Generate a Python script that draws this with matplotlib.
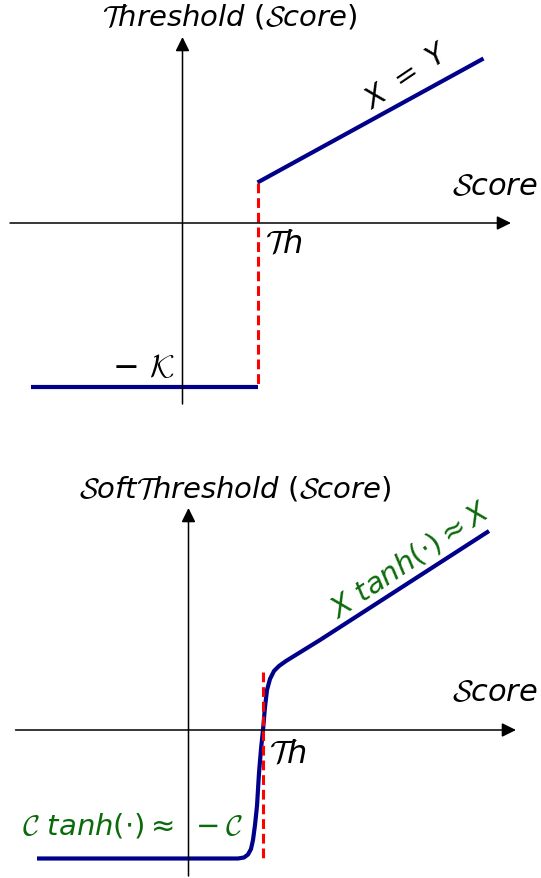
import matplotlib
matplotlib.use('Agg')
import matplotlib.pyplot as plt

# mathtext: italic sans for letters, calligraphic from cmsy10
plt.rcParams['mathtext.fontset'] = 'custom'
plt.rcParams['mathtext.it'] = 'DejaVu Sans:italic'
plt.rcParams['mathtext.rm'] = 'DejaVu Sans'
plt.rcParams['mathtext.cal'] = 'cmsy10'

# ---- data: hard threshold (top panel) ----
th_hard = 1.5
hard_low_x = [-3.03, 1.5]
hard_low_y = [-3.27, -3.27]
hard_high_x = [1.5, 6.02]
hard_high_y = [0.81, 3.29]

# ---- data: soft threshold (bottom panel) ----
th_soft = 1.49
soft_x = [-3.03, 0.99, 1.11, 1.19, 1.25, 1.29, 1.33, 1.37, 1.41, 1.45,
          1.49, 1.53, 1.57, 1.63, 1.71, 1.81, 1.95, 2.63, 6.01]
soft_y = [-2.57, -2.57, -2.55, -2.49, -2.38, -2.20, -1.90, -1.52, -0.86, -0.38,
          0.0, 0.46, 0.80, 1.02, 1.18, 1.28, 1.38, 1.80, 3.98]
soft_dash_y = [1.16, -2.55]

NAVY = '#00008b'
GREEN = '#0b6b0b'
FS_TITLE = 21
FS_LABEL = 23
FS_NOTE = 21


def draw_axes(ax, xr, yr):
    """ black coordinate axes with filled arrow heads """
    style = '-|>,head_length=0.85,head_width=0.42'
    ax.annotate('', xy=(xr[1], 0), xytext=(xr[0], 0),
                arrowprops=dict(arrowstyle=style, color='black', lw=1.1,
                                shrinkA=0, shrinkB=0), zorder=4)
    ax.annotate('', xy=(0, yr[1]), xytext=(0, yr[0]),
                arrowprops=dict(arrowstyle=style, color='black', lw=1.1,
                                shrinkA=0, shrinkB=0), zorder=4)


fig = plt.figure(figsize=(5.41, 8.79), dpi=100)

# top panel: hard threshold
ax1 = fig.add_axes([0, 439 / 879, 1, 440 / 879])
ax1.set_xlim(-3.65, 7.17); ax1.set_ylim(-4.32, 4.48)
ax1.set_axis_off()
draw_axes(ax1, (-3.45, 6.57), (-3.62, 3.72))
ax1.plot(hard_low_x, hard_low_y, color=NAVY, lw=3, solid_capstyle='butt', zorder=2)
ax1.plot(hard_high_x, hard_high_y, color=NAVY, lw=3, solid_capstyle='butt', zorder=2)
ax1.plot([th_hard, th_hard], [hard_high_y[0], hard_low_y[1]], color='red', lw=2.2,
         dashes=(3.2, 1.6), zorder=3)
ax1.text(0.95, 4.14, r'$\mathcal{T}hreshold\ (\mathcal{S}core)$', fontsize=FS_TITLE,
         ha='center', va='center')
ax1.text(7.1, 0.74, r'$\mathcal{S}core$', fontsize=22, ha='right', va='center')
ax1.text(1.65, -0.4, r'$\mathcal{T}h$', fontsize=FS_LABEL, ha='left', va='center')
ax1.text(-0.15, -2.9, r'$-\ \mathcal{K}$', fontsize=FS_LABEL, ha='right', va='center')
ax1.text(4.49, 2.96, r'$X\ =\ Y$', fontsize=FS_NOTE, ha='center', va='center',
         rotation=34, rotation_mode='anchor')

# bottom panel: soft threshold
ax2 = fig.add_axes([0, 0, 1, 439 / 879])
ax2.set_xlim(-3.77, 7.05); ax2.set_ylim(-2.96, 5.82)
ax2.set_axis_off()
draw_axes(ax2, (-3.46, 6.55), (-2.92, 4.44))
ax2.plot(soft_x, soft_y, color=NAVY, lw=3, solid_capstyle='butt',
         solid_joinstyle='round', zorder=2)
ax2.plot([th_soft, th_soft], soft_dash_y, color='red', lw=2.2,
         dashes=(3.2, 1.6), zorder=5)
ax2.text(0.93, 4.84, r'$\mathcal{S}oft\mathcal{T}hreshold\ (\mathcal{S}core)$',
         fontsize=FS_TITLE, ha='center', va='center')
ax2.text(6.98, 0.76, r'$\mathcal{S}core$', fontsize=22, ha='right', va='center')
ax2.text(1.61, -0.46, r'$\mathcal{T}h$', fontsize=FS_LABEL, ha='left', va='center')
ax2.text(-3.33, -1.9, r'$\mathcal{C}\ tanh(\cdot)\approx\ -\mathcal{C}$',
         fontsize=FS_NOTE, color=GREEN, ha='left', va='center')
ax2.text(4.43, 3.42, r'$X\ tanh(\cdot)\approx X$', fontsize=FS_NOTE, color=GREEN,
         ha='center', va='center', rotation=34, rotation_mode='anchor')

fig.savefig('out.png', dpi=100)
